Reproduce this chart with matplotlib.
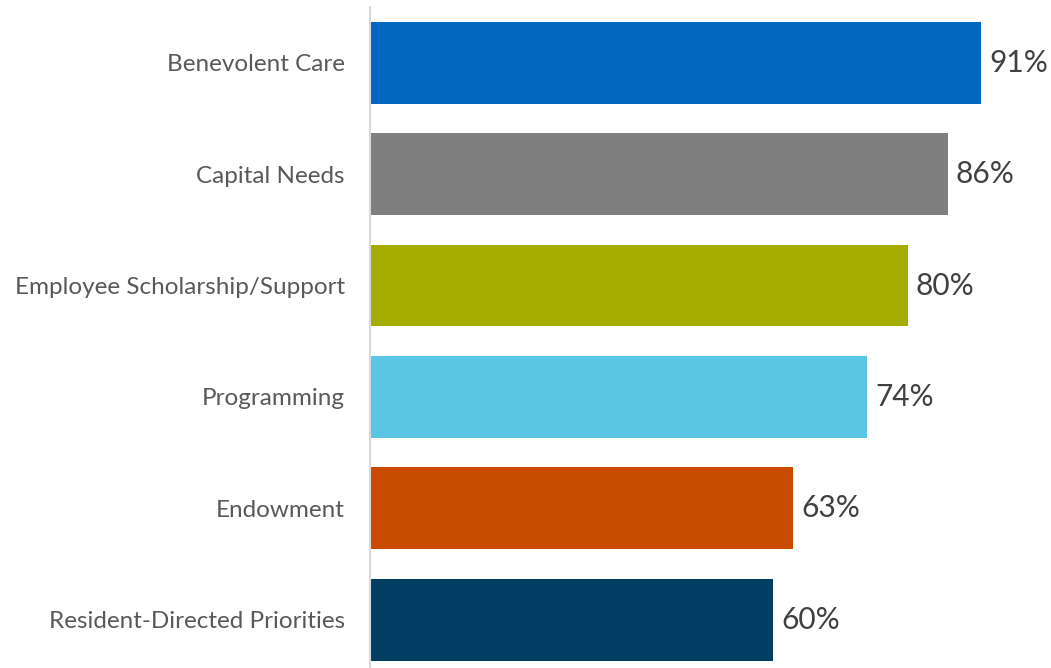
import matplotlib.pyplot as plt

# доли по направлениям, сверху вниз
categories = [
    'Benevolent Care',
    'Capital Needs',
    'Employee Scholarship/Support',
    'Programming',
    'Endowment',
    'Resident-Directed Priorities',
]
values = [91, 86, 80, 74, 63, 60]
colors = ['#0066BF', '#7F7F7F', '#A5AE00', '#5BC5E6', '#C84B00', '#003F63']

plt.rcParams['font.family'] = ['Lato', 'DejaVu Sans']

fig = plt.figure(figsize=(10.51, 6.68), dpi=100)
ax = fig.add_axes([0.352, -0.0112, 0.6394, 1.0007])

pos = list(range(len(categories)))
ax.barh(pos, values, height=0.735, color=colors)

for p, v in zip(pos, values):
    ax.text(v + 1.2, p, f'{v}%', va='center', ha='left', fontsize=21.5, color='#404040')

ax.set_xlim(0, 100)
ax.set_ylim(len(categories) - 0.5, -0.5)
ax.set_yticks(pos)
ax.set_yticklabels(categories, fontsize=17.5, color='#595959')
ax.tick_params(axis='y', length=0, pad=18)
ax.set_xticks([])

for side in ['top', 'right', 'bottom']:
    ax.spines[side].set_visible(False)
ax.spines['left'].set_color('#D9D9D9')
ax.spines['left'].set_linewidth(1.5)

fig.savefig('out.png', dpi=100)
